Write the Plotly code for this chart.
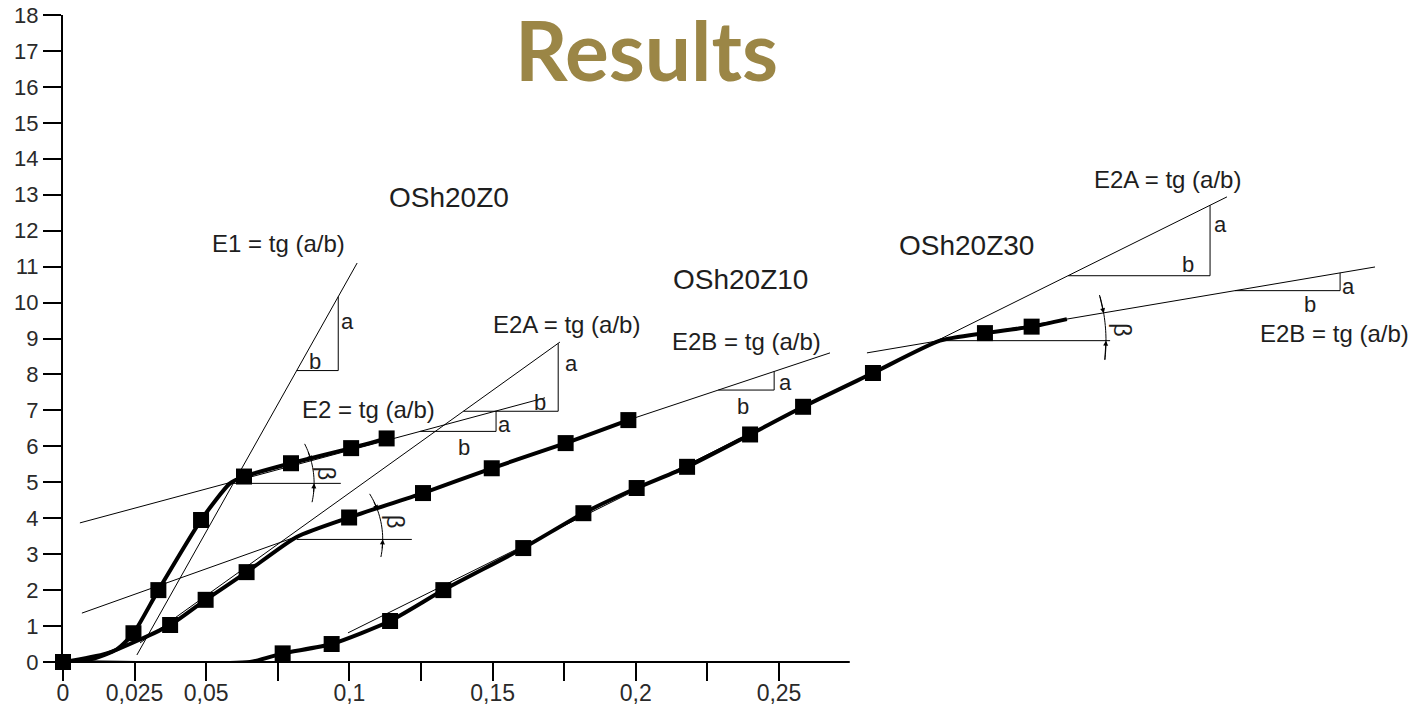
import math
import plotly.graph_objects as go

# ---------------- data ----------------
# OSh20Z0 : measured points (markers) and curve trace
z0_x = [0, 0.0246, 0.0333, 0.0482, 0.0632, 0.0796, 0.1006, 0.1130]
z0_y = [0, 0.80, 2.00, 3.95, 5.16, 5.53, 5.95, 6.22]
z0_curve_x = [0, 0.010, 0.0188, 0.0246, 0.0333, 0.0482, 0.0583, 0.0632, 0.0796, 0.1006, 0.1130]
z0_curve_y = [0, 0.08, 0.35, 0.80, 2.00, 3.95, 4.97, 5.16, 5.53, 5.95, 6.22]

# OSh20Z10
z10_x = [0, 0.0374, 0.0498, 0.0641, 0.0999, 0.1257, 0.1497, 0.1755, 0.1974]
z10_y = [0, 1.03, 1.73, 2.50, 4.02, 4.70, 5.39, 6.09, 6.73]
z10_curve_x = [0, 0.0153, 0.0374, 0.0498, 0.0641, 0.0816, 0.0999, 0.1257, 0.1497, 0.1755, 0.1974]
z10_curve_y = [0, 0.24, 1.03, 1.73, 2.50, 3.48, 4.02, 4.70, 5.39, 6.09, 6.73]

# OSh20Z30
z30_x = [0, 0.0767, 0.0938, 0.1142, 0.1328, 0.1607, 0.1817, 0.2003, 0.2179, 0.2399, 0.2584, 0.2828, 0.3219, 0.3382]
z30_y = [0, 0.24, 0.50, 1.14, 2.00, 3.17, 4.14, 4.84, 5.43, 6.33, 7.10, 8.04, 9.15, 9.33]
z30_curve_x = [0, 0.0653, 0.0767, 0.0938, 0.1142, 0.1328, 0.1607, 0.1817, 0.2003, 0.2179, 0.2399,
               0.2584, 0.2828, 0.3062, 0.3219, 0.3382, 0.3505]
z30_curve_y = [0, 0.0, 0.24, 0.50, 1.14, 2.00, 3.17, 4.14, 4.84, 5.43, 6.33,
               7.10, 8.04, 8.94, 9.15, 9.33, 9.54]

# tangent lines: name -> (x0, y0, x1, y1)
tangent_names = ["E1_Z0", "E2_Z0", "E2_Z10", "E2A_Z10", "E2B_Z10", "E2A_Z30", "E2B_Z30"]
tangent_x0 = [0.0258, 0.0059, 0.0066, 0.0269, 0.1973, 0.0995, 0.2807]
tangent_y0 = [0.195, 3.87, 1.36, 0.53, 6.73, 0.81, 8.60]
tangent_x1 = [0.1027, 0.1683, 0.0999, 0.1735, 0.2678, 0.4064, 0.4581]
tangent_y1 = [11.10, 7.35, 4.01, 8.90, 8.60, 12.94, 10.99]

# slope triangles: which tangent, start x, end x, label positions
tri_line = ["E1_Z0", "E2_Z0", "E2A_Z10", "E2B_Z10", "E2A_Z30", "E2B_Z30"]
tri_xa = [0.0816, 0.1247, 0.1398, 0.2288, 0.3509, 0.4092]
tri_xb = [0.0961, 0.1512, 0.1729, 0.2483, 0.4005, 0.4459]
tri_a_x = [0.0994, 0.1543, 0.1776, 0.2521, 0.4040, 0.4490]
tri_a_y = [9.47, 6.62, 8.31, 7.77, 12.16, 10.44]
tri_b_x = [0.0880, 0.1400, 0.1665, 0.2374, 0.3928, 0.4354]
tri_b_y = [8.36, 5.96, 7.21, 7.10, 11.05, 9.95]

# text labels
label_text = ["E1 = tg (a/b)", "E2 = tg (a/b)", "E2A = tg (a/b)", "E2B = tg (a/b)",
              "E2A = tg (a/b)", "E2B = tg (a/b)"]
label_x = [0.0752, 0.1066, 0.1759, 0.2387, 0.3855, 0.4441]
label_y = [11.65, 7.03, 9.38, 8.91, 13.41, 9.15]
series_text = ["OSh20Z0", "OSh20Z10", "OSh20Z30"]
series_x = [0.1348, 0.2364, 0.3156]
series_y = [12.91, 10.63, 11.60]

# beta angle marks: vertex, horizontal leg end, arc radius(px), arc angles, line angle
beta_vx = [0.0573, 0.0816, 0.3062]
beta_vy = [4.97, 3.41, 8.94]
beta_hx = [0.0970, 0.1218, 0.3656]
beta_r = [87, 86, 166]
beta_a_top = [27, 32, 15.4]
beta_a_bot = [-12.5, -11.8, -6.7]
beta_a_line = [15, 20, 9.5]
beta_tx = [0.0921, 0.1159, 0.3697]
beta_ty = [5.25, 3.90, 9.24]

x_tickvals = [0, 0.025, 0.05, 0.075, 0.1, 0.125, 0.15, 0.175, 0.2, 0.225, 0.25]
x_ticktext = ["0", "0,025", "0,05", "", "0,1", "", "0,15", "", "0,2", "", "0,25"]
y_tickvals = list(range(0, 19))
x_axis_end = 0.2747

# ---------------- layout geometry ----------------
W, H = 1422, 708
ML, MR, MT, MB = 63, 0, 15, 46
XMAX = 0.4745
YMAX = 18
PX_X = (W - ML - MR) / XMAX
PX_Y = (H - MT - MB) / YMAX

FONT = "Arial, Liberation Sans, sans-serif"
TXT = "#1e1e1e"

fig = go.Figure()

def curve(cx, cy, mx, my, name):
    fig.add_trace(go.Scatter(x=cx, y=cy, mode="lines", line=dict(color="black", width=4, shape="spline", smoothing=0.6),
                             name=name, showlegend=False, hoverinfo="skip"))
    fig.add_trace(go.Scatter(x=mx, y=my, mode="markers", marker=dict(symbol="square", size=16, color="black"),
                             name=name, showlegend=False, cliponaxis=False))

curve(z0_curve_x, z0_curve_y, z0_x, z0_y, "OSh20Z0")
curve(z10_curve_x, z10_curve_y, z10_x, z10_y, "OSh20Z10")
curve(z30_curve_x, z30_curve_y, z30_x, z30_y, "OSh20Z30")

shapes = []
thin = dict(color="black", width=1)
tan = {}
for n, x0, y0, x1, y1 in zip(tangent_names, tangent_x0, tangent_y0, tangent_x1, tangent_y1):
    tan[n] = (x0, y0, x1, y1)
    shapes.append(dict(type="line", xref="x", yref="y", x0=x0, y0=y0, x1=x1, y1=y1, line=thin))

def on_line(n, x):
    x0, y0, x1, y1 = tan[n]
    return y0 + (y1 - y0) * (x - x0) / (x1 - x0)

for n, xa, xb in zip(tri_line, tri_xa, tri_xb):
    ya = on_line(n, xa)
    yb = on_line(n, xb)
    shapes.append(dict(type="path", xref="x", yref="y",
                       path=f"M {xa},{ya} L {xb},{ya} L {xb},{yb}", line=thin))

annotations = []
for ax_, ay_ in zip(tri_a_x, tri_a_y):
    annotations.append(dict(x=ax_, y=ay_, text="a", showarrow=False, font=dict(family=FONT, size=22, color=TXT)))
for bx_, by_ in zip(tri_b_x, tri_b_y):
    annotations.append(dict(x=bx_, y=by_, text="b", showarrow=False, font=dict(family=FONT, size=22, color=TXT)))
for t, x, y in zip(label_text, label_x, label_y):
    annotations.append(dict(x=x, y=y, text=t, showarrow=False, font=dict(family=FONT, size=24, color=TXT)))
for t, x, y in zip(series_text, series_x, series_y):
    annotations.append(dict(x=x, y=y, text=t, showarrow=False, font=dict(family=FONT, size=28, color=TXT)))

def polar(vx, vy, r, ang):
    a = math.radians(ang)
    return vx + r * math.cos(a) / PX_X, vy + r * math.sin(a) / PX_Y

for vx, vy, hx, r, at, ab, al, tx, ty in zip(beta_vx, beta_vy, beta_hx, beta_r, beta_a_top,
                                               beta_a_bot, beta_a_line, beta_tx, beta_ty):
    shapes.append(dict(type="line", xref="x", yref="y", x0=vx, y0=vy, x1=hx, y1=vy, line=thin))
    pts = []
    steps = 24
    for i in range(steps + 1):
        ang = at + (ab - at) * i / steps
        pts.append(polar(vx, vy, r, ang))
    path = "M " + " L ".join(f"{px},{py}" for px, py in pts)
    shapes.append(dict(type="path", xref="x", yref="y", path=path, line=thin))
    for head, tail in ((al, al + 7), (0, -7)):
        hx_, hy_ = polar(vx, vy, r, head)
        tx_, ty_ = polar(vx, vy, r, tail)
        annotations.append(dict(x=hx_, y=hy_, ax=tx_, ay=ty_, axref="x", ayref="y", showarrow=True,
                                arrowhead=2, arrowsize=1, arrowwidth=1, arrowcolor="black", text=""))
    annotations.append(dict(x=tx, y=ty, text="β", textangle=90, showarrow=False,
                            font=dict(family=FONT, size=24, color=TXT)))

# x axis line (only to the end of the drawn axis)
shapes.append(dict(type="line", xref="x", yref="paper", x0=-0.002, y0=0, x1=x_axis_end, y1=0,
                   line=dict(color="black", width=2)))

# title
annotations.append(dict(xref="paper", yref="paper", x=(646 - ML) / (W - ML - MR), y=(H - MB - 49) / (H - MT - MB),
                        xanchor="center", yanchor="middle", text="<b>Results</b>", showarrow=False,
                        font=dict(family="Lato", size=82, color="#9B8646")))

fig.update_layout(
    width=W, height=H,
    margin=dict(l=ML, r=MR, t=MT, b=MB, pad=0, autoexpand=False),
    paper_bgcolor="white", plot_bgcolor="white",
    shapes=shapes, annotations=annotations, showlegend=False,
    xaxis=dict(range=[0, XMAX], tickvals=x_tickvals, ticktext=x_ticktext, ticks="outside", ticklen=18,
               tickwidth=2, tickcolor="black", showgrid=False, zeroline=False, showline=False,
               automargin=False, ticklabelstandoff=-8,
               tickfont=dict(family=FONT, size=23, color="#2a2a2a")),
    yaxis=dict(range=[0, YMAX], tickvals=y_tickvals, ticks="outside", ticklen=18, tickwidth=2,
               tickcolor="black", showgrid=False, zeroline=False, showline=True, linecolor="black",
               linewidth=2, automargin=False, tickfont=dict(family=FONT, size=22, color="#2a2a2a")),
)

fig.write_html("out.html", config={"displayModeBar": False},
               post_script="document.body.style.margin='0px';document.body.style.overflow='hidden';")
